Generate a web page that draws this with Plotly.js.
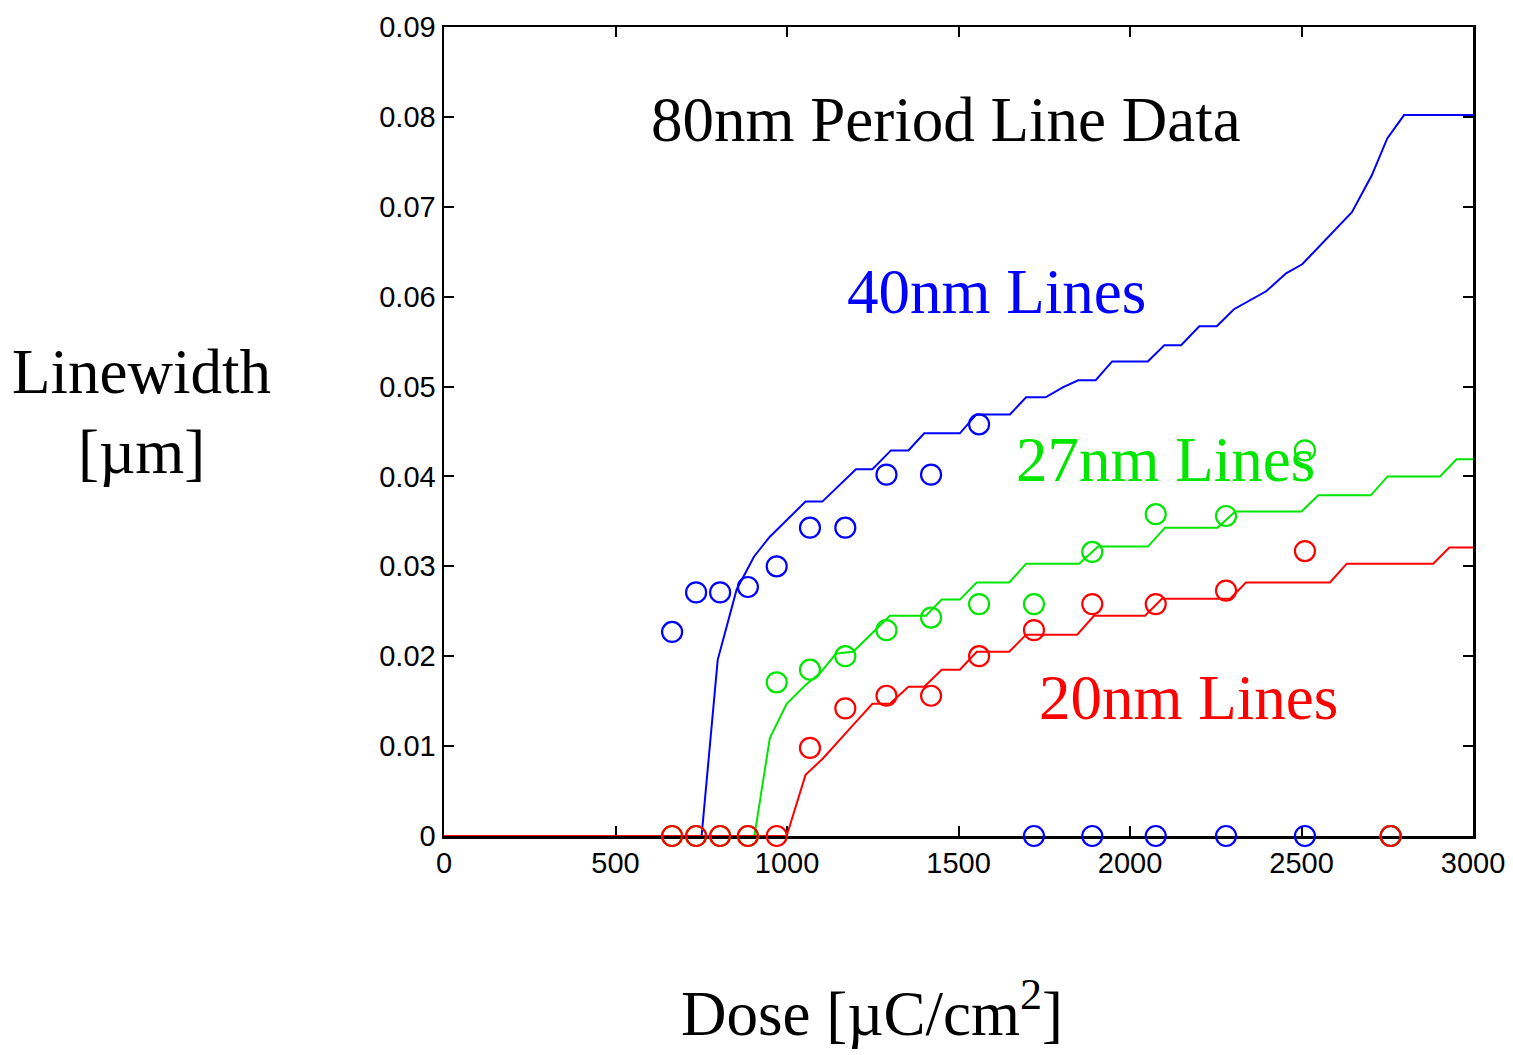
<!DOCTYPE html>
<html>
<head>
<meta charset="utf-8">
<script src="https://cdn.plot.ly/plotly-3.0.1.min.js"></script>
<style>html,body{margin:0;padding:0;background:#fff;}#chart{width:1513px;height:1055px;}</style>
</head>
<body>
<div id="chart"></div>
<script>
// Measured data points (dose in uC/cm^2, linewidth in um)
const doseMeas = [665, 735, 805, 886, 970, 1067, 1170, 1290, 1420, 1560, 1720, 1890, 2075, 2280, 2510, 2760];
const blueMeas  = [0.0227, 0.0271, 0.0271, 0.0277, 0.0300, 0.0343, 0.0343, 0.0402, 0.0402, 0.0458, 0, 0, 0, 0, 0, 0];
const greenMeas = [0, 0, 0, 0, 0.0171, 0.0185, 0.0200, 0.0229, 0.0243, 0.0258, 0.0258, 0.0316, 0.0358, 0.0356, 0.0429, 0];
const redMeas   = [0, 0, 0, 0, 0, 0.0098, 0.0142, 0.0156, 0.0156, 0.0200, 0.0229, 0.0258, 0.0258, 0.0273, 0.0317, 0];

// Simulated curves
const blueLineDose = [0, 751, 798, 853, 904, 950, 1054, 1103, 1201, 1249, 1303, 1354, 1400, 1504, 1552, 1650, 1697, 1754, 1804, 1849, 1900, 1948, 2052, 2100, 2149, 2202, 2253, 2303, 2397, 2455, 2502, 2593, 2647, 2705, 2750, 2799, 3000];
const blueLineVal  = [0, 0, 0.0196, 0.0274, 0.0311, 0.0333, 0.0372, 0.0372, 0.0408, 0.0408, 0.0429, 0.0429, 0.0448, 0.0448, 0.0469, 0.0469, 0.0488, 0.0488, 0.0499, 0.0507, 0.0507, 0.0528, 0.0528, 0.0546, 0.0546, 0.0567, 0.0567, 0.0586, 0.0606, 0.0626, 0.0636, 0.0672, 0.0694, 0.0735, 0.0776, 0.0802, 0.0802];

const greenLineDose = [0, 905, 950, 999, 1054, 1096, 1143, 1193, 1300, 1405, 1451, 1504, 1553, 1648, 1697, 1852, 1907, 2052, 2102, 2255, 2307, 2500, 2549, 2702, 2751, 2904, 2952, 3000];
const greenLineVal  = [0, 0, 0.0109, 0.0147, 0.0168, 0.0181, 0.0203, 0.0205, 0.0245, 0.0245, 0.0263, 0.0263, 0.0282, 0.0282, 0.0303, 0.0303, 0.0322, 0.0322, 0.0343, 0.0343, 0.0361, 0.0361, 0.0379, 0.0379, 0.0400, 0.0400, 0.0419, 0.0419];

const redLineDose = [0, 999, 1054, 1104, 1201, 1249, 1300, 1354, 1400, 1451, 1504, 1553, 1648, 1697, 1846, 1895, 2044, 2093, 2292, 2338, 2583, 2632, 2884, 2931, 3000];
const redLineVal  = [0, 0, 0.0068, 0.0086, 0.0127, 0.0147, 0.0147, 0.0166, 0.0166, 0.0185, 0.0185, 0.0205, 0.0205, 0.0224, 0.0224, 0.0245, 0.0245, 0.0264, 0.0264, 0.0282, 0.0282, 0.0303, 0.0303, 0.0321, 0.0321];

const xTicks = [0, 500, 1000, 1500, 2000, 2500, 3000];
const yTicks = [0, 0.01, 0.02, 0.03, 0.04, 0.05, 0.06, 0.07, 0.08, 0.09];
const yTickText = ['0', '0.01', '0.02', '0.03', '0.04', '0.05', '0.06', '0.07', '0.08', '0.09'];

const BLUE = '#0000ff', GREEN = '#00e600', RED = '#ff0000';

function lineTrace(x, y, c) {
  return {x: x, y: y, type: 'scatter', mode: 'lines', line: {color: c, width: 2}, cliponaxis: false, hoverinfo: 'skip', showlegend: false};
}
function markTrace(x, y, c) {
  return {x: x, y: y, type: 'scatter', mode: 'markers', marker: {symbol: 'circle-open', size: 20, color: c, line: {width: 2.2, color: c}}, cliponaxis: false, showlegend: false};
}

const data = [
  lineTrace(blueLineDose, blueLineVal, BLUE),
  markTrace(doseMeas, blueMeas, BLUE),
  lineTrace(greenLineDose, greenLineVal, GREEN),
  markTrace(doseMeas, greenMeas, GREEN),
  lineTrace(redLineDose, redLineVal, RED),
  markTrace(doseMeas, redMeas, RED)
];

const serif = 'Liberation Serif, Times New Roman, serif';
const big = 63;
function ann(text, x, y, color) {
  return {text: text, x: x, y: y, xref: 'paper', yref: 'paper', xanchor: 'center', yanchor: 'middle', showarrow: false, font: {family: serif, size: big, color: color}};
}

const tickFont = {family: 'Liberation Sans, Arial, sans-serif', size: 29, color: '#000'};

const layout = {
  width: 1513, height: 1055,
  margin: {l: 444, r: 40, t: 27, b: 219},
  paper_bgcolor: '#fff', plot_bgcolor: '#fff',
  showlegend: false,
  xaxis: {
    range: [0, 3000], tickvals: xTicks, ticktext: xTicks.map(String),
    ticks: 'inside', ticklen: 10, tickwidth: 2, tickcolor: '#000',
    showline: true, linecolor: '#000', linewidth: 2.5, mirror: 'ticks',
    showgrid: false, zeroline: false, layer: 'below traces',
    tickfont: tickFont
  },
  yaxis: {
    range: [0, 0.09], tickvals: yTicks, ticktext: yTickText,
    ticks: 'inside', ticklen: 10, tickwidth: 2, tickcolor: '#000',
    showline: true, linecolor: '#000', linewidth: 2.5, mirror: 'ticks',
    showgrid: false, zeroline: false, layer: 'below traces',
    tickfont: tickFont
  },
  annotations: [
    ann('80nm Period Line Data', 0.4878, 0.885, '#000'),
    ann('40nm Lines', 0.5374, 0.6724, BLUE),
    ann('27nm Lines', 0.7007, 0.4648, GREEN),
    ann('20nm Lines', 0.724, 0.1706, RED),
    ann('Linewidth', -0.2935, 0.5736, '#000'),
    ann('[µm]', -0.2935, 0.4747, '#000'),
    ann('Dose [µC/cm<sup>2</sup>]', 0.4159, -0.214, '#000')
  ]
};

Plotly.newPlot('chart', data, layout, {displayModeBar: false, staticPlot: true});
</script>
</body>
</html>
